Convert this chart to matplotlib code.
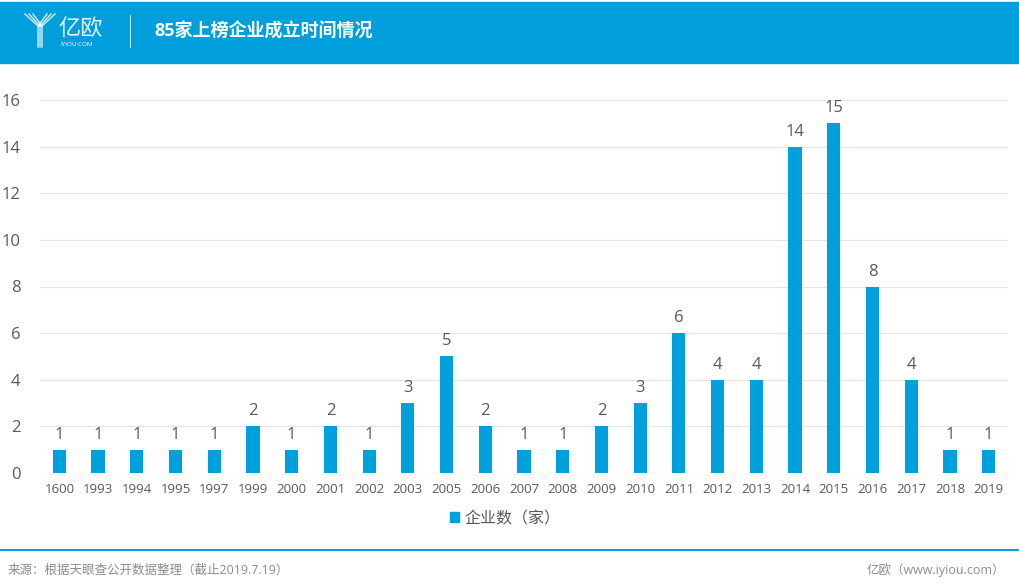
import matplotlib.pyplot as plt
import matplotlib.patches as mpatches
from matplotlib.lines import Line2D

plt.rcParams['font.family'] = ['Open Sans', 'Noto Sans CJK SC', 'DejaVu Sans']

years = ['1600', '1993', '1994', '1995', '1997', '1999', '2000', '2001', '2002',
         '2003', '2005', '2006', '2007', '2008', '2009', '2010', '2011', '2012',
         '2013', '2014', '2015', '2016', '2017', '2018', '2019']
counts = [1, 1, 1, 1, 1, 2, 1, 2, 1, 3, 5, 2, 1, 1, 2, 3, 6, 4, 4, 14, 15, 8, 4, 1, 1]

title = '85家上榜企业成立时间情况'
legend_label = '企业数（家）'
source = '来源：根据天眼查公开数据整理（截止2019.7.19）'
credit = '亿欧（www.iyiou.com）'

blue = '#00A0DC'
text_gray = '#595959'

W, H = 1019, 587
fig = plt.figure(figsize=(W / 100, H / 100), dpi=100)

# header band
fig.patches.append(mpatches.Rectangle((0, 1 - 63 / H), 1, 61 / H, transform=fig.transFigure,
                                      color='#009FDB', zorder=0))
# rough logo mark
for dx in (0, 4, 8):
    fig.lines.append(Line2D([(25 + dx) / W, (38 + dx / 2) / W, (38 + dx / 2) / W],
                            [1 - 14 / H, 1 - 26 / H, 1 - 47 / H], transform=fig.transFigure,
                            color='white', lw=1.0, alpha=0.85))
    fig.lines.append(Line2D([(55 - dx) / W, (42 - dx / 2) / W],
                            [1 - 14 / H, 1 - 26 / H], transform=fig.transFigure,
                            color='white', lw=1.0, alpha=0.85))
fig.text(58 / W, 1 - 29 / H, '亿欧', color='white', fontsize=16, va='center', alpha=0.9)
fig.text(60 / W, 1 - 45 / H, 'IYIOU·COM', color='white', fontsize=4.5, va='center')
fig.lines.append(Line2D([130 / W, 130 / W], [1 - 15 / H, 1 - 47 / H], transform=fig.transFigure,
                        color='white', lw=0.8, alpha=0.7))
fig.text(154 / W, 1 - 32 / H, title, color='white', fontsize=13, fontweight='bold', va='center')

# chart
ax = fig.add_axes([40 / W, 1 - 473 / H, (1008 - 40) / W, (473 - 100) / H])
x = range(len(years))
ax.bar(x, counts, width=0.34, color=blue, label=legend_label, zorder=3)
for xi, c in zip(x, counts):
    ax.text(xi, c + 0.3, str(c), ha='center', va='bottom', fontsize=12, color=text_gray)

ax.set_ylim(0, 16)
ax.set_xlim(-0.5, len(years) - 0.5)
ax.set_yticks(range(0, 17, 2))
ax.set_xticks(list(x))
ax.set_xticklabels(years)
ax.tick_params(axis='both', length=0, colors=text_gray)
ax.tick_params(axis='y', labelsize=12, pad=14)
ax.tick_params(axis='x', labelsize=9.5, pad=7)
ax.grid(axis='y', color='#E3E3E3', linewidth=0.8, zorder=0)
for s in ax.spines.values():
    s.set_visible(False)

fig.legend(handles=[mpatches.Patch(color=blue, label=legend_label)], loc='center',
           bbox_to_anchor=(505 / W, 1 - 519 / H), frameon=False, fontsize=11.5,
           handlelength=0.6, handleheight=0.6, handletextpad=0.3, labelcolor=text_gray)

# footer
fig.lines.append(Line2D([0, 1], [1 - 550 / H, 1 - 550 / H], transform=fig.transFigure,
                        color='#00A0DC', lw=1.5))
fig.text(8 / W, 1 - 570 / H, source, color='#8C8C8C', fontsize=9, va='center')
fig.text(1005 / W, 1 - 570 / H, credit, color='#8C8C8C', fontsize=9, va='center', ha='right')

fig.savefig('out.png', dpi=100)
